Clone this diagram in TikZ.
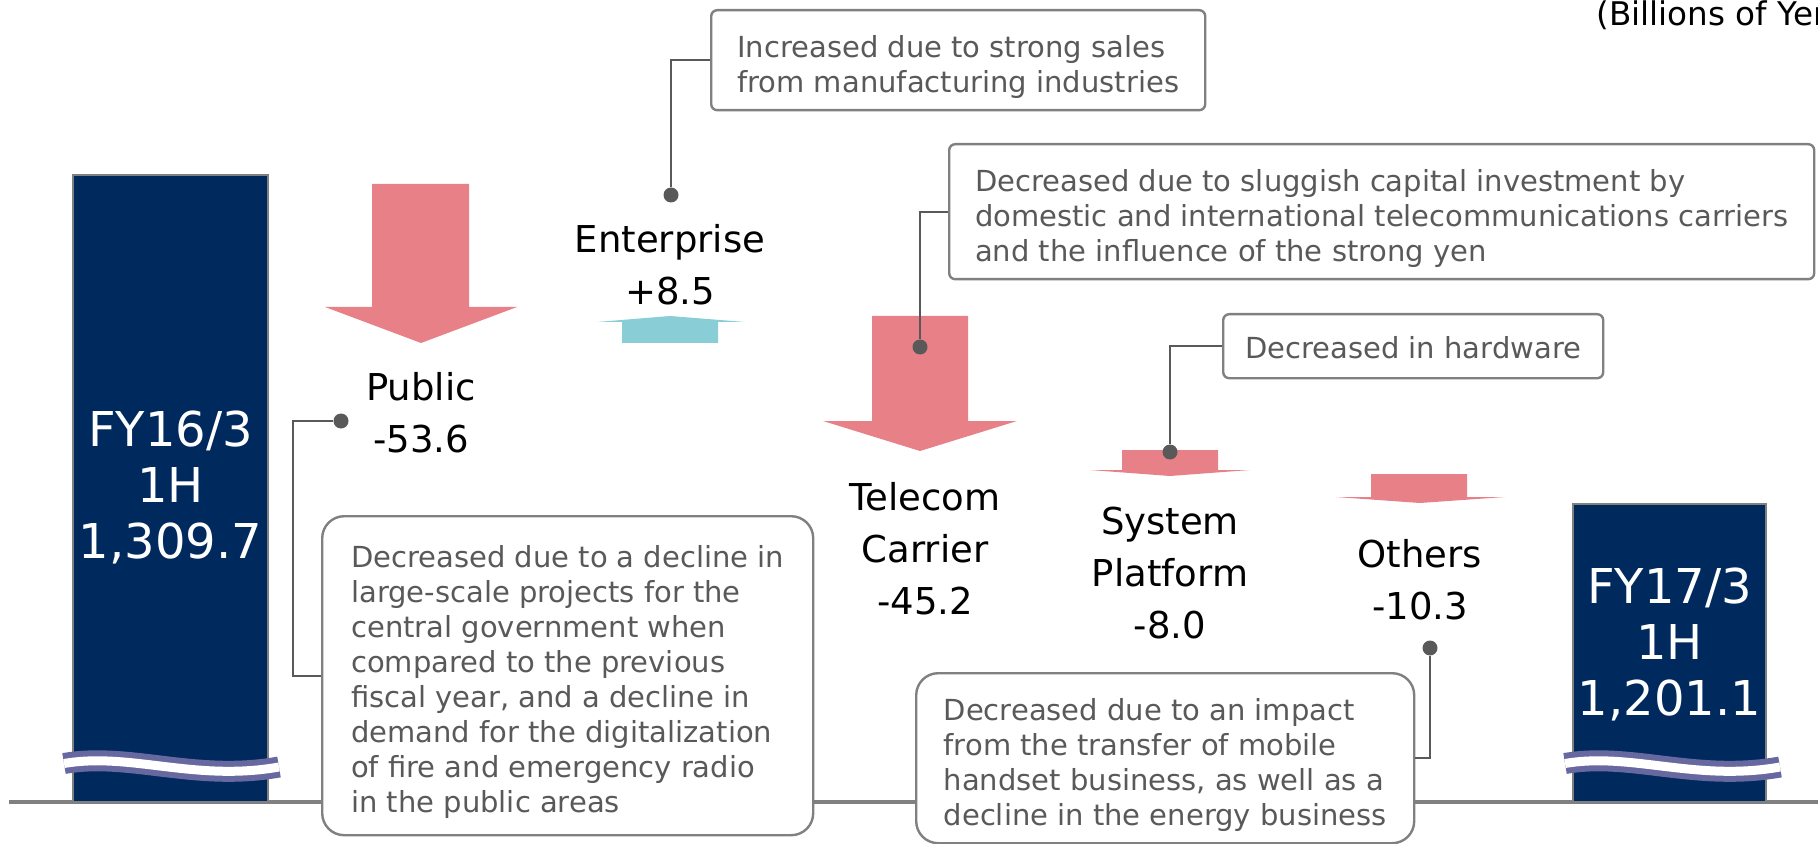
\documentclass[tikz,border=0pt]{standalone}
\usepackage{fontspec}
\setmainfont{DejaVu Sans}
\usetikzlibrary{positioning}
\definecolor{navy}{RGB}{0,42,94}
\definecolor{barline}{RGB}{128,128,128}
\definecolor{notegray}{RGB}{89,89,89}
\definecolor{pinkarr}{RGB}{232,128,136}
\definecolor{tealarr}{RGB}{137,205,214}
\definecolor{wavec}{RGB}{104,104,160}
\newcommand\lift[1]{\rule{0pt}{#1}}

\begin{document}
\begin{tikzpicture}[
  x=0.5pt, y=-0.5pt,
  totbar/.style={draw=barline, line width=1.3pt, fill=navy},
  bartext/.style={text=white, font=\fontsize{24}{28}\selectfont, align=center, inner sep=0pt},
  lbl/.style={font=\fontsize{18.5}{26}\selectfont, align=center, inner sep=0pt},
  note/.style={draw=barline, line width=1.2pt, fill=white, rounded corners=3pt, text=notegray, font=\fontsize{14.5}{17.5}\selectfont, align=left, anchor=north west, inner ysep=0pt},
  bignote/.style={note, rounded corners=11pt},
  decarrow/.style={fill=pinkarr},
  incarrow/.style={fill=tealarr},
  link/.style={draw=notegray, line width=1pt},
  pinpt/.style={circle, fill=notegray, inner sep=0pt, minimum size=7.5pt},
  brk/.style={draw=wavec, line width=10.5pt},
  brkgap/.style={draw=white, line width=4.5pt},
]
\useasboundingbox (0,0) rectangle (1818,844);
\clip (0,0) rectangle (1818,844);

\draw[draw=barline, line width=2pt] (9,802) -- (1818,802);

\draw[totbar] (73,175) rectangle (268,802);
\draw[totbar] (1573,504) rectangle (1766,802);
\foreach \dx in {0,1501} {
  \draw[brk] (64+\dx,763.5) .. controls (130+\dx,752) and (195+\dx,782) .. (279+\dx,767);
  \draw[brkgap] (64+\dx,763.5) .. controls (130+\dx,752) and (195+\dx,782) .. (279+\dx,767);
}
\node[bartext] (open) at (170.5,487) {FY16/3\\1H\\1,309.7};
\node[bartext] (close) at (1669.5,644) {FY17/3\\1H\\1,201.1};

\fill[decarrow] (372,184) -- (469,184) -- (469,307) -- (517,307) -- (421,343) -- (325,307) -- (372,307) -- cycle;
\fill[incarrow] (622,343) -- (718,343) -- (718,322) -- (745,322) -- (670,316) -- (597,322) -- (622,322) -- cycle;
\fill[decarrow] (872,316) -- (968,316) -- (968,421) -- (1017,421) -- (920,451) -- (823,421) -- (872,421) -- cycle;
\fill[decarrow] (1122,450) -- (1218,450) -- (1218,470) -- (1250,470) -- (1170,476) -- (1090,470) -- (1122,470) -- cycle;
\fill[decarrow] (1371,474) -- (1467,474) -- (1467,497) -- (1505,497) -- (1420,503) -- (1336,497) -- (1371,497) -- cycle;
\coordinate (pubtip) at (421,343);
\coordinate (enttip) at (670,316);
\coordinate (teltip) at (920,451);
\coordinate (systip) at (1170,476);
\coordinate (othtip) at (1420,503);

\node[lbl, below=14.5pt of pubtip] (public) {Public\\-53.6};
\node[lbl, above=5.5pt of enttip] (enterprise) {Enterprise\\+8.5};
\node[lbl, below=15.5pt of teltip, xshift=2.5pt] (telecom) {Telecom\\Carrier\\-45.2};
\node[lbl, below=15.5pt of systip] (system) {System\\Platform\\-8.0};
\node[lbl, below=18pt of othtip] (others) {Others\\-10.3};

\node[anchor=base west, inner sep=0pt, font=\fontsize{16.3}{19}\selectfont] (unit) at (1596,26) {(Billions of Yen)};

\node[note, minimum width=247pt, minimum height=50pt, inner xsep=11pt] (entnote) at (710,9) {\lift{17.5pt}Increased due to strong sales\\from manufacturing industries};
\node[note, minimum width=432.5pt, minimum height=67.5pt, inner xsep=12pt] (telnote) at (948,143) {\lift{17.5pt}Decreased due to sluggish capital investment by\\domestic and international telecommunications carriers\\and the influence of the strong yen};
\node[note, minimum width=190pt, minimum height=32pt, inner xsep=11pt] (hwnote) at (1222,313) {\lift{13pt}Decreased in hardware};
\node[bignote, minimum width=245.5pt, minimum height=159.5pt, inner xsep=13pt] (pubnote) at (321,515) {\lift{17.5pt}Decreased due to a decline in\\large-scale projects for the\\central government when\\compared to the previous\\fiscal year, and a decline in\\demand for the digitalization\\of fire and emergency radio\\in the public areas};
\node[bignote, minimum width=249pt, minimum height=85pt, inner xsep=11.5pt] (othnote) at (915,672) {\lift{17.5pt}Decreased due to an impact\\from the transfer of mobile\\handset business, as well as a\\decline in the energy business};

\node[pinpt] (entdot) at (671,195) {};
\node[pinpt] (teldot) at (920,347) {};
\node[pinpt] (hwdot) at (1170,452) {};
\node[pinpt] (pubdot) at (341,421) {};
\node[pinpt] (othdot) at (1430,648) {};
\draw[link] (entnote.west) -| (entdot);
\draw[link] (telnote.west) -| (teldot);
\draw[link] (hwnote.west) -| (hwdot);
\draw[link] (pubnote.west) -- ++(-28,0) |- (pubdot);
\draw[link] (othnote.east) -| (othdot);
\end{tikzpicture}
\end{document}
